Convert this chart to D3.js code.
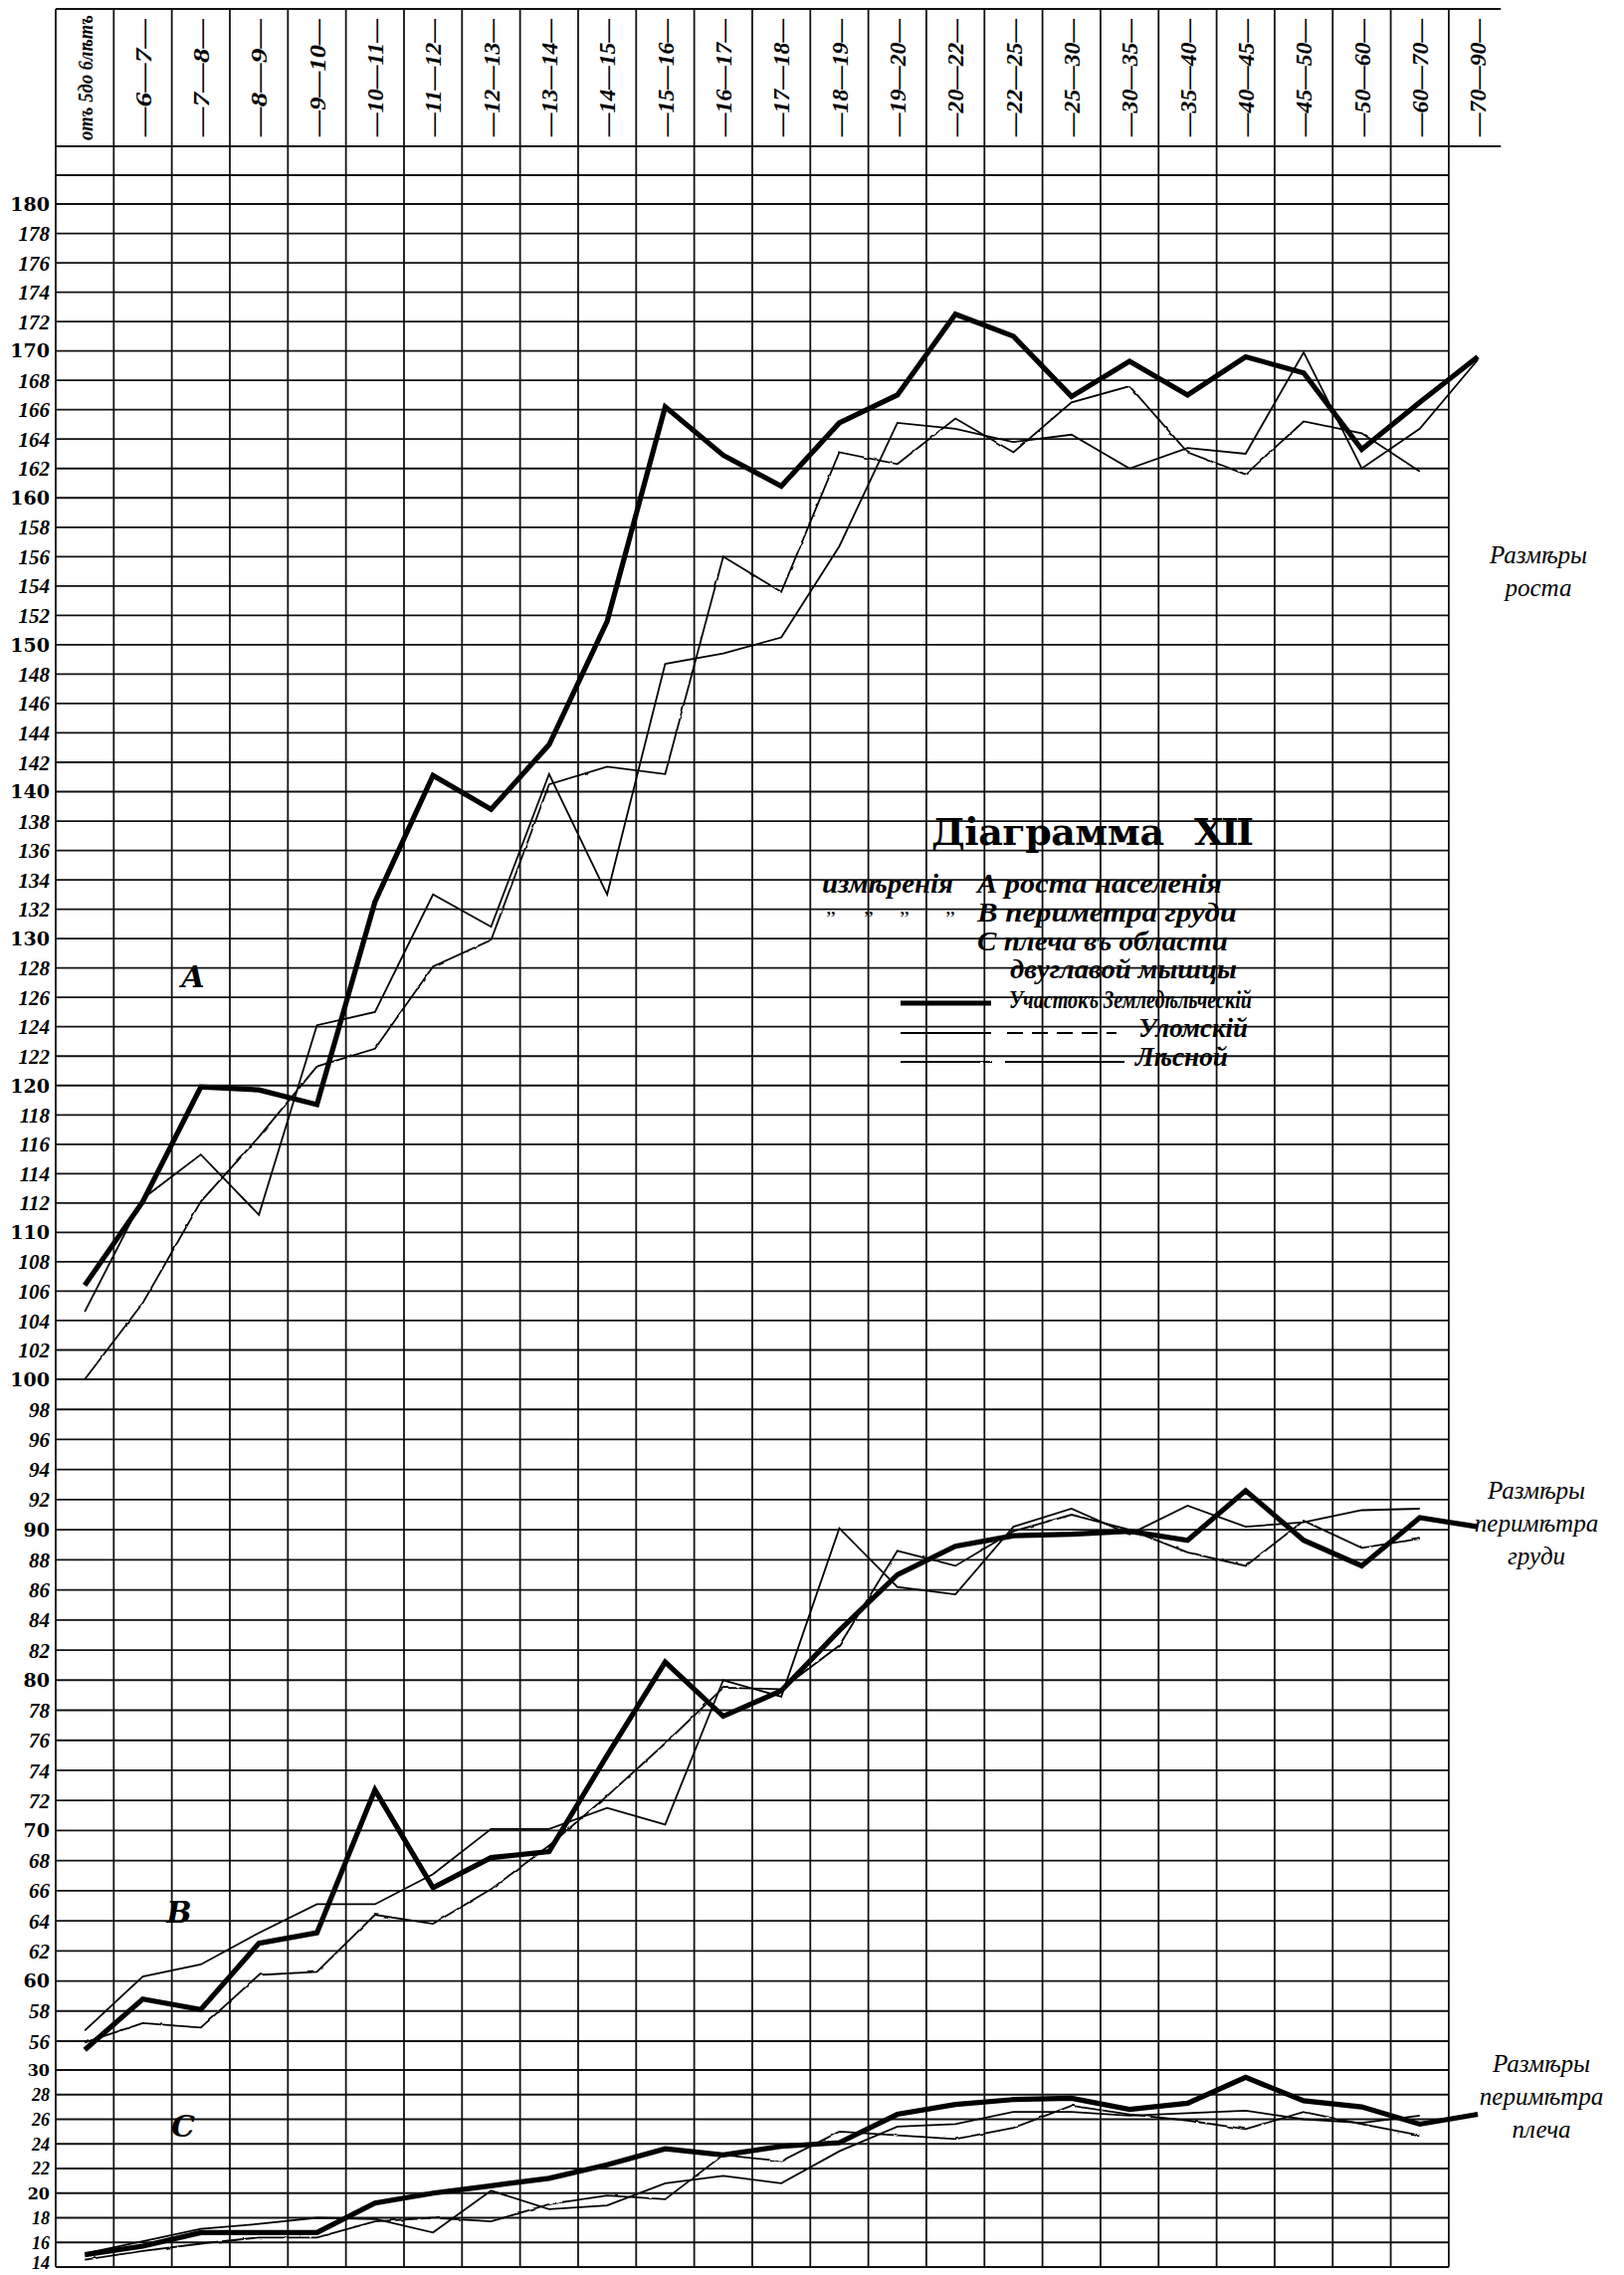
<!DOCTYPE html>
<html>
<head>
<meta charset="utf-8">
<script src="https://cdn.jsdelivr.net/npm/d3@7"></script>
<style>
  body { margin: 0; background: #fff; }
  svg { display: block; }
</style>
</head>
<body>
<div id="viz"></div>
<script>
// columns of the table: age groups
var ageGroups = ["отъ 5до 6лѣтъ", "6—7", "7—8", "8—9", "9—10", "10—11", "11—12", "12—13",
  "13—14", "14—15", "15—16", "16—17", "17—18", "18—19", "19—20", "20—22", "22—25",
  "25—30", "30—35", "35—40", "40—45", "45—50", "50—60", "60—70", "70—90"];

// A - рост (cm)
var zemA  = [106.4, 112.1, 119.9, 119.7, 118.7, 132.5, 141.1, 138.8, 143.2, 151.6, 166.2, 162.9, 160.8,
             165.1, 167.0, 172.5, 171.0, 166.9, 169.3, 167.0, 169.6, 168.5, 163.3, 166.5, 169.6];
var ulomA = [104.6, 112.3, 115.3, 111.2, 124.1, 125.0, 133.0, 130.8, 141.2, 133.0, 148.7, 149.4, 150.5,
             156.7, 165.1, 164.7, 163.8, 164.3, 162.0, 163.4, 163.0, 169.9, 162.0, 164.7, 169.4];
var lesA  = [100.0, 105.2, 112.1, 116.5, 121.3, 122.5, 128.1, 129.9, 140.5, 141.7, 141.2, 156.0, 153.6,
             163.1, 162.3, 165.4, 163.1, 166.5, 167.6, 163.1, 161.6, 165.2, 164.4, 161.8];

// B - периметръ груди
var zemB  = [55.4, 58.8, 58.1, 62.5, 63.2, 72.7, 66.2, 68.2, 68.6, 75.0, 81.2, 77.6, 79.3,
             83.3, 87.0, 88.9, 89.6, 89.7, 89.9, 89.3, 92.6, 89.3, 87.6, 90.8, 90.2];
var ulomB = [56.7, 60.3, 61.1, 63.2, 65.1, 65.1, 67.1, 70.1, 70.1, 71.5, 70.4, 80.0, 78.9,
             90.1, 86.2, 85.7, 90.2, 91.4, 89.7, 91.6, 90.2, 90.5, 91.3, 91.4];
var lesB  = [55.9, 57.2, 56.9, 60.4, 60.6, 64.4, 63.8, 66.1, 69.0, 72.3, 75.8, 79.5, 79.4,
             82.3, 88.6, 87.6, 89.9, 91.0, 90.0, 88.5, 87.6, 90.6, 88.8, 89.4];

// C - плечо
var zemC  = [15.0, 15.7, 16.8, 16.8, 16.8, 19.2, 20.0, 20.6, 21.2, 22.3, 23.6, 23.1, 23.8,
             24.1, 26.4, 27.2, 27.6, 27.7, 26.8, 27.3, 29.4, 27.5, 27.0, 25.6, 26.4];
var ulomC = [15.1, 16.1, 17.1, 17.5, 18.0, 17.9, 16.8, 20.2, 18.7, 19.0, 20.8, 21.4, 20.8,
             23.4, 25.4, 25.6, 26.6, 26.6, 26.3, 26.5, 26.7, 26.0, 25.7, 26.3];
var lesC  = [14.6, 15.3, 15.9, 16.4, 16.4, 17.7, 18.0, 17.7, 19.1, 19.8, 19.5, 23.1, 22.6,
             25.0, 24.7, 24.4, 25.3, 27.1, 26.4, 25.9, 25.2, 26.6, 25.6, 24.7];

// scale labels on the left
var ticksA = d3.range(180, 99, -2);   // 180 .. 100
var ticksB = d3.range(98, 55, -2);    // 98 .. 56
var ticksC = d3.range(30, 13, -2);    // 30 .. 14
var topRows = [182, 184];
var cShift = 24;   // the C scale sits right under 56 (30 takes the place of 54)

var W = 1632, H = 2286;
var left = 56, cw = 58.33, headTop = 9, headBot = 147;

var svg = d3.select("#viz").append("svg")
    .attr("width", W).attr("height", H)
    .style("background", "#fff");

var defs = svg.append("defs");
var wf = defs.append("filter").attr("id", "wavy")
    .attr("filterUnits", "userSpaceOnUse")
    .attr("x", 0).attr("y", 0).attr("width", W).attr("height", H);
wf.append("feTurbulence").attr("type", "fractalNoise")
    .attr("baseFrequency", 0.12).attr("numOctaves", 1).attr("seed", 4).attr("result", "n");
wf.append("feDisplacementMap").attr("in", "SourceGraphic").attr("in2", "n")
    .attr("scale", 2.6).attr("xChannelSelector", "R").attr("yChannelSelector", "G");

var x = d3.scaleBand().domain(ageGroups).range([left, left + cw * ageGroups.length]);
var gridRight = x(ageGroups[ageGroups.length - 1]);
var headRight = x.range()[1] - 6;

// rows are not quite even in the print, so the scale is piecewise
var y = d3.scaleLinear()
    .domain([38, 54, 56, 100, 180, 184])
    .range([2278, 2080, 2051, 1386, 205, headBot]);

function colX(i) { return x(ageGroups[i]) + x.bandwidth() / 2; }

// ---------- grid ----------
var grid = svg.append("g").attr("stroke", "#111").attr("stroke-width", 1.8);

var rowVals = topRows.concat(ticksA, ticksB, ticksC.map(function(v) { return v + cShift; }));
grid.selectAll("line.h").data(rowVals).enter().append("line")
    .attr("x1", left).attr("x2", function(d) { return d === 184 ? headRight : gridRight; })
    .attr("y1", function(d) { return y(d); }).attr("y2", function(d) { return y(d); });

grid.append("line").attr("x1", left).attr("x2", headRight)
    .attr("y1", headTop).attr("y2", headTop);

grid.selectAll("line.v").data(ageGroups).enter().append("line")
    .attr("x1", function(d) { return x(d); }).attr("x2", function(d) { return x(d); })
    .attr("y1", headTop).attr("y2", y(14 + cShift));

// ---------- header ----------
svg.append("g").selectAll("text").data(ageGroups).enter().append("text")
    .attr("transform", function(d) { return "translate(" + (x(d) + x.bandwidth() / 2) + "," + ((headTop + headBot) / 2) + ") rotate(-90)"; })
    .attr("text-anchor", "middle").attr("dy", "0.36em")
    .attr("textLength", function(d, i) { return i === 0 ? 126 : 118; })
    .attr("lengthAdjust", "spacingAndGlyphs")
    .style("font-family", "'Liberation Serif', serif").style("font-style", "italic")
    .style("font-weight", "bold").style("font-size", function(d, i) { return i === 0 ? "21px" : "23px"; })
    .text(function(d, i) { return i === 0 ? d : "—" + d + "—"; });

// ---------- y labels ----------
var labels = ticksA.concat(ticksB).map(function(v) { return {v: v, pos: v, fs: 21}; })
    .concat(ticksC.map(function(v) { return {v: v, pos: v + cShift, fs: 18}; }));
svg.append("g").selectAll("text").data(labels).enter().append("text")
    .attr("x", left - 6).attr("y", function(d) { return Math.min(y(d.pos), H - 12); })
    .attr("dy", "0.36em").attr("text-anchor", "end")
    .style("font-family", function(d) { return d.v % 10 === 0 ? "'DejaVu Serif', serif" : "'Liberation Serif', serif"; })
    .style("font-style", function(d) { return d.v % 10 === 0 ? "normal" : "italic"; })
    .style("font-weight", "bold")
    .style("font-size", function(d) { return (d.v % 10 === 0 ? d.fs - 2 : d.fs) + "px"; })
    .text(function(d) { return d.v; });

// ---------- curves ----------
var styles = {
  zem:  {w: 5.2, filter: null},
  ulom: {w: 1.8, filter: null},
  les:  {w: 1.8, filter: "url(#wavy)"}
};
var series = [
  {vals: lesA, off: 0, kind: "les"}, {vals: ulomA, off: 0, kind: "ulom"}, {vals: zemA, off: 0, kind: "zem"},
  {vals: lesB, off: 0, kind: "les"}, {vals: ulomB, off: 0, kind: "ulom"}, {vals: zemB, off: 0, kind: "zem"},
  {vals: lesC, off: cShift, kind: "les"}, {vals: ulomC, off: cShift, kind: "ulom"}, {vals: zemC, off: cShift, kind: "zem"}
];
series.forEach(function(s) {
  var line = d3.line().x(function(d, i) { return colX(i); }).y(function(d) { return y(d + s.off); });
  svg.append("path").datum(s.vals)
      .attr("d", line).attr("fill", "none").attr("stroke", "#000")
      .attr("stroke-width", styles[s.kind].w)
      .attr("stroke-linejoin", "miter").attr("stroke-miterlimit", 3)
      .attr("filter", styles[s.kind].filter);
});

// ---------- section letters ----------
var letters = [{t: "А", v: 127.4, off: 0, x: 194}, {t: "В", v: 64.6, off: 0, x: 180}, {t: "С", v: 25.4, off: cShift, x: 184}];
svg.append("g").selectAll("text").data(letters).enter().append("text")
    .attr("x", function(d) { return d.x; }).attr("y", function(d) { return y(d.v + d.off); })
    .attr("text-anchor", "middle").attr("dy", "0.35em")
    .style("font-family", "'DejaVu Serif', serif").style("font-style", "italic")
    .style("font-weight", "bold").style("font-size", "30px")
    .text(function(d) { return d.t; });

// ---------- right-hand captions ----------
var captions = [
  {lines: ["Размѣры", "роста"], x: 1546, y: 566},
  {lines: ["Размѣры", "перимѣтра", "груди"], x: 1544, y: 1506},
  {lines: ["Размѣры", "перимѣтра", "плеча"], x: 1549, y: 2082}
];
captions.forEach(function(c) {
  var t = svg.append("text").attr("text-anchor", "middle")
      .style("font-family", "'Liberation Serif', serif").style("font-style", "italic")
      .style("font-size", "25px");
  c.lines.forEach(function(l, i) {
    t.append("tspan").attr("x", c.x).attr("y", c.y + i * 33).text(l);
  });
});

// ---------- title & legend ----------
var titleFont = "'DejaVu Serif', serif";
svg.append("text").attr("x", 936).attr("y", 849)
    .attr("textLength", 234).attr("lengthAdjust", "spacing")
    .style("font-family", titleFont).style("font-weight", "bold").style("font-size", "38px")
    .text("Діаграмма");
svg.append("text").attr("x", 1200).attr("y", 849)
    .attr("textLength", 60).attr("lengthAdjust", "spacing")
    .style("font-family", titleFont).style("font-weight", "bold").style("font-size", "38px")
    .text("XII");

var legendText = [
  {t: "измѣренія", x: 826, x2: 958, y: 897, fs: 28},
  {t: "А роста населенія", x: 982, x2: 1228, y: 897, fs: 28},
  {t: "В периметра груди", x: 982, x2: 1243, y: 926, fs: 28},
  {t: "С плеча въ области", x: 982, x2: 1234, y: 955, fs: 28},
  {t: "двуглавой мышцы", x: 1015, x2: 1243, y: 983, fs: 28},
  {t: "Участокъ Земледѣльческій", x: 1014, x2: 1258, y: 1013, fs: 25},
  {t: "Уломскій", x: 1144, x2: 1254, y: 1042, fs: 28},
  {t: "Лѣсной", x: 1141, x2: 1234, y: 1071, fs: 28}
];
svg.append("g").selectAll("text").data(legendText).enter().append("text")
    .attr("x", function(d) { return d.x; }).attr("y", function(d) { return d.y; })
    .attr("textLength", function(d) { return d.x2 - d.x; }).attr("lengthAdjust", "spacingAndGlyphs")
    .style("font-family", "'Liberation Serif', serif").style("font-style", "italic")
    .style("font-weight", "bold").style("font-size", function(d) { return d.fs + "px"; })
    .text(function(d) { return d.t; });

// ditto marks
svg.append("g").selectAll("text").data([830, 868, 904, 950]).enter().append("text")
    .attr("x", function(d) { return d; }).attr("y", 930)
    .style("font-family", "'Liberation Serif', serif").style("font-size", "22px")
    .text("\u201D");

var legendLines = [
  {x1: 905, x2: 996, y: 1008, kind: "zem", dash: null},
  {x1: 905, x2: 996, y: 1038, kind: "ulom", dash: null},
  {x1: 1012, x2: 1122, y: 1038, kind: "ulom", dash: "16,9"},
  {x1: 905, x2: 997, y: 1067, kind: "les", dash: null},
  {x1: 1010, x2: 1130, y: 1067, kind: "ulom", dash: null}
];
svg.append("g").selectAll("line").data(legendLines).enter().append("line")
    .attr("x1", function(d) { return d.x1; }).attr("x2", function(d) { return d.x2; })
    .attr("y1", function(d) { return d.y; }).attr("y2", function(d) { return d.y; })
    .attr("stroke", "#000")
    .attr("stroke-width", function(d) { return styles[d.kind].w; })
    .attr("stroke-dasharray", function(d) { return d.dash; })
    .attr("filter", function(d) { return styles[d.kind].filter; });
</script>
</body>
</html>
